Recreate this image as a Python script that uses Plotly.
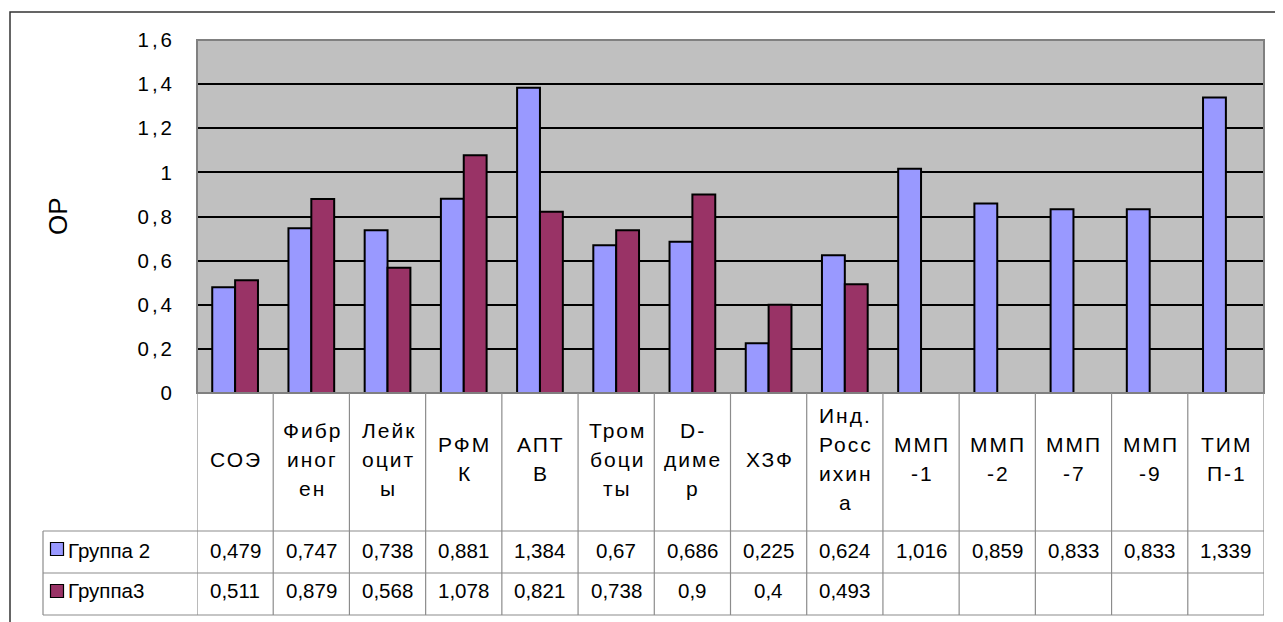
import plotly.graph_objects as go

categories = [["СОЭ"], ["Фибр", "иног", "ен"], ["Лейк", "оцит", "ы"], ["РФМ", "К"], ["АПТ", "В"],
              ["Тром", "боци", "ты"], ["D-", "диме", "р"], ["ХЗФ"], ["Инд.", "Росс", "ихин", "а"],
              ["ММП", "-1"], ["ММП", "-2"], ["ММП", "-7"], ["ММП", "-9"], ["ТИМ", "П-1"]]
group2 = [0.479, 0.747, 0.738, 0.881, 1.384, 0.67, 0.686, 0.225, 0.624, 1.016, 0.859, 0.833, 0.833, 1.339]
group3 = [0.511, 0.879, 0.568, 1.078, 0.821, 0.738, 0.9, 0.4, 0.493, None, None, None, None, None]
series_names = ["Группа 2", "Группа3"]
group2_text = ["0,479", "0,747", "0,738", "0,881", "1,384", "0,67", "0,686", "0,225", "0,624",
               "1,016", "0,859", "0,833", "0,833", "1,339"]
group3_text = ["0,511", "0,879", "0,568", "1,078", "0,821", "0,738", "0,9", "0,4", "0,493",
               "", "", "", "", ""]
tick_vals = [0, 0.2, 0.4, 0.6, 0.8, 1.0, 1.2, 1.4, 1.6]
tick_text = ["0", "0,2", "0,4", "0,6", "0,8", "1", "1,2", "1,4", "1,6"]
colors = ["#9999FF", "#993366"]
y_title = "ОР"

# page offset caused by default body margin of the html page
OFF = 8
W, H = 1283 - OFF, 622 - OFF
PL, PR, PT, PB = 197, 1264, 40, 393   # absolute page pixels of the plot area
FONT = "Liberation Sans, Arial, sans-serif"


def px(x):
    return (x - PL) / (PR - PL)


def py(y):
    return (PB - y) / (PB - PT)


def spaced(t, s):
    return "<span style='letter-spacing:%gpx'>%s</span>" % (s, t)


xs = list(range(len(categories)))
fig = go.Figure()
for vals, name, col in [(group2, series_names[0], colors[0]), (group3, series_names[1], colors[1])]:
    fig.add_trace(go.Bar(x=xs, y=vals, name=name, marker=dict(color=col, line=dict(color="black", width=2))))

shapes = []
shapes.append(dict(type="rect", xref="paper", yref="paper", x0=0, x1=1, y0=0, y1=1,
                   line=dict(color="#808080", width=2), layer="above"))
shapes.append(dict(type="rect", xref="paper", yref="paper", x0=px(10), x1=px(1300), y0=py(640), y1=py(12),
                   line=dict(color="#333333", width=1.5)))
grid_col = "#8c8c8c"
for i in range(len(categories) + 1):
    shapes.append(dict(type="line", xref="x", yref="paper", x0=i - 0.5, x1=i - 0.5, y0=py(393), y1=py(615),
                       line=dict(color=grid_col, width=1.2)))
shapes.append(dict(type="line", xref="paper", yref="paper", x0=px(43), x1=px(43), y0=py(531), y1=py(615),
                   line=dict(color=grid_col, width=1.2)))
for yy in [531, 573, 615]:
    shapes.append(dict(type="line", xref="paper", yref="paper", x0=px(43), x1=1, y0=py(yy), y1=py(yy),
                       line=dict(color=grid_col, width=1.2)))
for yc, col in [(549, colors[0]), (591, colors[1])]:
    shapes.append(dict(type="rect", xref="paper", yref="paper", x0=px(50.5), x1=px(63.5), y0=py(yc + 6.5),
                       y1=py(yc - 6.5), fillcolor=col, line=dict(color="black", width=1.2)))

annotations = []
LINE = 29
for i, lines in enumerate(categories):
    n = len(lines)
    for k, ln in enumerate(lines):
        yc = 459 + (k - (n - 1) / 2) * LINE
        annotations.append(dict(x=i, xref="x", y=py(yc), yref="paper", text=spaced(ln, 2), showarrow=False,
                                font=dict(family=FONT, size=21, color="black"), xshift=1,
                                xanchor="center", yanchor="middle"))
for i in range(len(categories)):
    for yc, txt in [(550.5, group2_text[i]), (590.5, group3_text[i])]:
        if txt:
            annotations.append(dict(x=i, xref="x", y=py(yc), yref="paper", text=txt, showarrow=False,
                                    font=dict(family=FONT, size=20.5, color="black"),
                                    xanchor="center", yanchor="middle"))
for yc, name in [(550.5, series_names[0]), (590.5, series_names[1])]:
    annotations.append(dict(x=px(66), xref="paper", y=py(yc), yref="paper", text=name, showarrow=False,
                            font=dict(family=FONT, size=20.5, color="black"),
                            xanchor="left", yanchor="middle"))
annotations.append(dict(x=px(57.5), xref="paper", y=py(216.5), yref="paper", text=y_title, showarrow=False,
                        textangle=-90, font=dict(family=FONT, size=26, color="black"),
                        xanchor="center", yanchor="middle"))

fig.update_layout(
    width=W, height=H,
    margin=dict(l=PL - OFF, r=W - (PR - OFF), t=PT - OFF, b=H - (PB - OFF), pad=0),
    paper_bgcolor="white", plot_bgcolor="#C0C0C0",
    barmode="group", bargap=0.4, bargroupgap=0,
    showlegend=False,
    font=dict(family=FONT, size=20, color="black"),
    xaxis=dict(range=[-0.5, len(categories) - 0.5], showticklabels=False, showgrid=False,
               zeroline=False, ticks="", fixedrange=True),
    yaxis=dict(range=[0, 1.6], tickvals=tick_vals, ticktext=[spaced(t, 3) for t in tick_text],
               showgrid=True, gridcolor="black", gridwidth=1.5,
               zeroline=False, ticks="", ticklabelstandoff=21,
               tickfont=dict(family=FONT, size=20.5, color="black")),
    shapes=shapes, annotations=annotations,
)
fig.write_html("out.html")
